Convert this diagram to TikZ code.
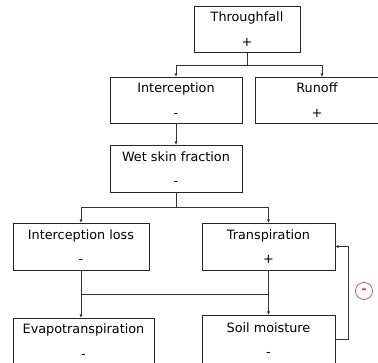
\documentclass[tikz,border=0pt]{standalone}
\usepackage{fontspec}
\setmainfont{DejaVu Sans}
\usetikzlibrary{arrows.meta}
\definecolor{fbred}{RGB}{205,70,70}
\begin{document}
\begin{tikzpicture}[x=1pt,y=-1pt,
  blk/.style={draw=black!85,line width=0.9pt,anchor=north west,inner sep=0pt,outer sep=0pt,
    align=center,font=\fontsize{12.8}{24.5}\selectfont},
  arr/.style={draw=black!80,line width=0.7pt,-{Latex[length=3.5pt,width=3pt]}},
  ln/.style={draw=black!80,line width=0.7pt}]
\useasboundingbox (0,0) rectangle (378,363);
\node[blk,minimum width=106pt,minimum height=46pt] (T) at (194,6) {Throughfall\\+};
\node[blk,minimum width=132pt,minimum height=46pt] (I) at (110,77) {Interception\\-};
\node[blk,minimum width=124pt,minimum height=46pt] (R) at (255,77) {Runoff\\+};
\node[blk,minimum width=132pt,minimum height=47pt] (W) at (110,145) {Wet skin fraction\\-};
\node[blk,minimum width=136pt,minimum height=47pt] (L) at (13,223) {Interception loss\\-};
\node[blk,minimum width=133pt,minimum height=47pt] (P) at (202,223) {Transpiration\\+};
\node[blk,minimum width=141pt,minimum height=46pt] (E) at (13,318) {Evapotranspiration\\-};
\node[blk,minimum width=133pt,minimum height=49pt] (S) at (202,315) {Soil moisture\\-};
\node[draw=fbred,text=fbred,circle,minimum size=17pt,inner sep=0pt,line width=0.7pt,
  font=\fontsize{13}{13}\bfseries] (neg) at (364,291) {-};
\coordinate (t1) at (247,65);
\coordinate (w1) at (176,207);
\coordinate (j1) at (81,294);
\coordinate (j2) at (268.5,294);
\draw[ln] (T.south) -- (t1);
\draw[arr] (t1) -| (I.north);
\draw[arr] (t1) -| ([xshift=5pt]R.north);
\draw[arr] (I.south) -- (W.north);
\draw[ln] (W.south) -- (w1);
\draw[arr] (w1) -| (L.north);
\draw[arr] (w1) -| (P.north);
\draw[arr] (L.south) -- (L.south |- E.north);
\draw[arr] (P.south) -- (S.north);
\draw[ln] (j1) -- (j2);
\draw[arr] (S.east) -- ++(13,0) |- (P.east);
\end{tikzpicture}
\end{document}
